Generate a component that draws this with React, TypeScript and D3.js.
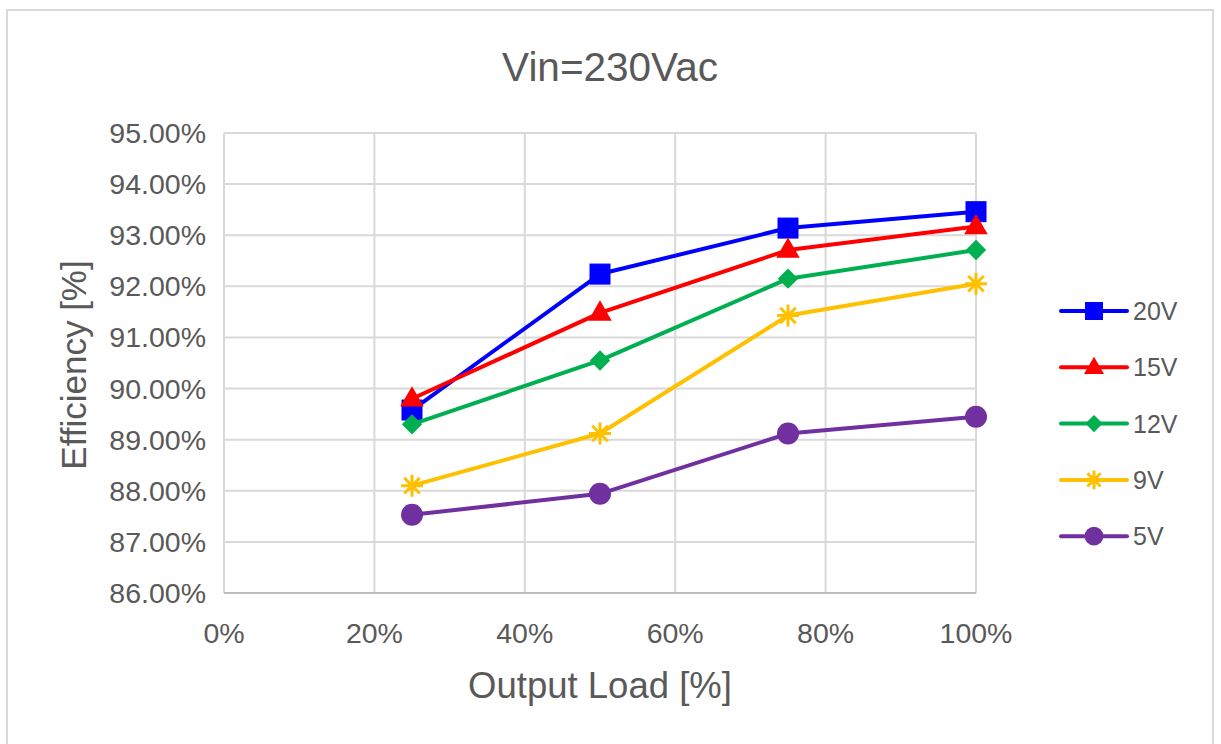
import React from "react";
import * as d3 from "d3";

const loads = [0.25, 0.5, 0.75, 1.0];
const seriesNames = ["20V", "15V", "12V", "9V", "5V"];
const eff20V = [89.58, 92.24, 93.14, 93.46];
const eff15V = [89.8, 91.48, 92.71, 93.17];
const eff12V = [89.3, 90.55, 92.15, 92.71];
const eff9V = [88.1, 89.12, 91.43, 92.05];
const eff5V = [87.53, 87.94, 89.12, 89.45];
const colors = ["#0000ff", "#ff0000", "#00b050", "#ffc000", "#7030a0"];
const markers = ["square", "triangle", "diamond", "star", "circle"];
const xTicks = [0, 0.2, 0.4, 0.6, 0.8, 1.0];
const yTicks = [86, 87, 88, 89, 90, 91, 92, 93, 94, 95];

const W = 1221, H = 744;
const plot = { left: 224, right: 976, top: 133, bottom: 593 };
const textColor = "#595959";
const gridColor = "#d9d9d9";
const font = "'Liberation Sans', Arial, sans-serif";

const x = d3.scaleLinear().domain([0, 1]).range([plot.left, plot.right]);
const y = d3.scaleLinear().domain([86, 95]).range([plot.bottom, plot.top]);

const Marker = ({ kind, cx, cy, color, size }: any) => {
  const s = size;
  if (kind === "square")
    return <rect x={cx - s / 2} y={cy - s / 2} width={s} height={s} fill={color} stroke={color} strokeWidth={1} />;
  if (kind === "triangle")
    return <path d={d3.symbol(d3.symbolTriangle, s * s * 0.6)()!} transform={`translate(${cx},${cy + 1})`} fill={color} />;
  if (kind === "diamond")
    return <rect x={cx - s * 0.36} y={cy - s * 0.36} width={s * 0.72} height={s * 0.72} fill={color} transform={`rotate(45 ${cx} ${cy})`} />;
  if (kind === "circle") return <circle cx={cx} cy={cy} r={s * 0.55} fill={color} />;
  // star (asterisk)
  const r = s * 0.55;
  const lines = [0, 45, 90, 135].map((a) => {
    const rad = (a * Math.PI) / 180;
    return `M${cx - r * Math.cos(rad)},${cy - r * Math.sin(rad)}L${cx + r * Math.cos(rad)},${cy + r * Math.sin(rad)}`;
  });
  return <path d={lines.join("")} stroke={color} strokeWidth={3} fill="none" />;
};

export default function App() {
  const data = [eff20V, eff15V, eff12V, eff9V, eff5V];
  const line = d3
    .line<number>()
    .x((_, i) => x(loads[i]))
    .y((d) => y(d));

  return (
    <svg width={W} height={H} style={{ position: "absolute", left: 0, top: 0, fontFamily: font }}>
      <rect x={0} y={0} width={W} height={H} fill="#fff" />
      <rect x={7} y={10} width={1206} height={745} fill="#fff" stroke={gridColor} strokeWidth={2} />
      <text x={610} y={81} textAnchor="middle" fontSize={40.5} fill={textColor}>
        Vin=230Vac
      </text>

      {/* grid */}
      {yTicks.map((t) => (
        <line key={"gy" + t} x1={plot.left} x2={plot.right} y1={y(t)} y2={y(t)} stroke={gridColor} strokeWidth={2} />
      ))}
      {xTicks.map((t) => (
        <line key={"gx" + t} x1={x(t)} x2={x(t)} y1={plot.top} y2={plot.bottom} stroke={gridColor} strokeWidth={2} />
      ))}
      <line x1={plot.left} x2={plot.right} y1={plot.bottom} y2={plot.bottom} stroke="#bfbfbf" strokeWidth={2} />

      {/* tick labels */}
      {yTicks.map((t) => (
        <text key={"ly" + t} x={206} y={y(t) + 10} textAnchor="end" fontSize={28.5} fill={textColor}>
          {t.toFixed(2)}%
        </text>
      ))}
      {xTicks.map((t) => (
        <text key={"lx" + t} x={x(t)} y={643} textAnchor="middle" fontSize={28.5} fill={textColor}>
          {d3.format(".0%")(t)}
        </text>
      ))}

      <text x={600} y={698} textAnchor="middle" fontSize={36.5} fill={textColor}>
        Output Load [%]
      </text>
      <text transform={`translate(86,${(plot.top + plot.bottom) / 2 + 2}) rotate(-90)`} textAnchor="middle" fontSize={35} fill={textColor}>
        Efficiency [%]
      </text>

      {/* series */}
      {data.map((vals, si) => (
        <g key={seriesNames[si]}>
          <path d={line(vals)!} fill="none" stroke={colors[si]} strokeWidth={4} strokeLinejoin="round" strokeLinecap="round" />
          {vals.map((v, i) => (
            <Marker key={i} kind={markers[si]} cx={x(loads[i])} cy={y(v)} color={colors[si]} size={20} />
          ))}
        </g>
      ))}

      {/* legend */}
      {seriesNames.map((name, si) => {
        const ly = 311 + si * 56.3;
        return (
          <g key={"lg" + name}>
            <line x1={1061} x2={1127} y1={ly} y2={ly} stroke={colors[si]} strokeWidth={4} strokeLinecap="round" />
            <Marker kind={markers[si]} cx={1094} cy={ly} color={colors[si]} size={17} />
            <text x={1133} y={ly + 9} fontSize={25} fill={textColor}>
              {name}
            </text>
          </g>
        );
      })}
    </svg>
  );
}
